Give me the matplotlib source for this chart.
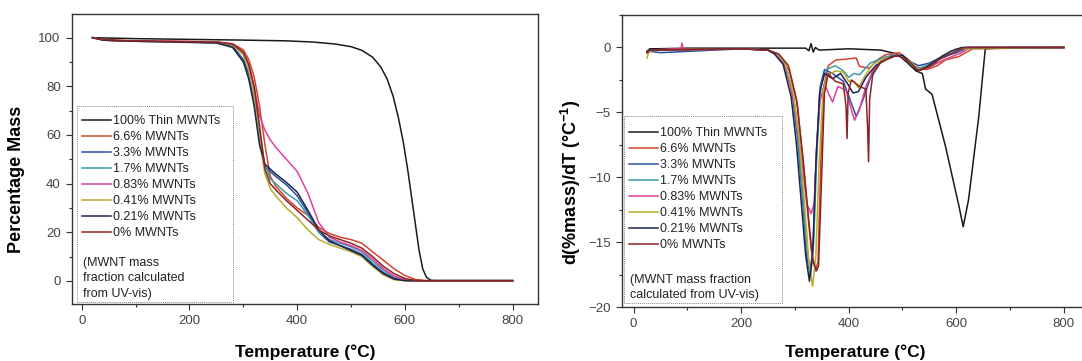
import matplotlib
matplotlib.use("Agg")
import matplotlib.pyplot as plt
from matplotlib.patches import Rectangle
from matplotlib.ticker import MultipleLocator

plt.rcParams['font.family'] = ['Liberation Sans', 'DejaVu Sans']
plt.rcParams['mathtext.fontset'] = 'custom'
plt.rcParams['mathtext.rm'] = 'Liberation Sans'
plt.rcParams['mathtext.bf'] = 'Liberation Sans:bold'

labels = ['100% Thin MWNTs', '6.6% MWNTs', '3.3% MWNTs', '1.7% MWNTs',
          '0.83% MWNTs', '0.41% MWNTs', '0.21% MWNTs', '0% MWNTs']
colors = ['#1a1a1a', '#d2452b', '#2a4ea0', '#3c9ab0',
          '#e0409a', '#b8ad2e', '#1c2450', '#8c2424']

# ---- TGA (percentage mass) ----
tga_thin_T = [20, 100, 200, 300, 380, 430, 470, 500, 520, 540, 555, 567, 578, 588, 597, 605,
              612, 619, 626, 633, 640, 648, 655, 800]
tga_thin = [100, 99.6, 99.3, 99.0, 98.7, 98.2, 97.4, 96.3, 94.8, 92, 88, 83, 76, 67, 57, 46,
            35, 24, 13, 5, 1.5, 0.3, 0.2, 0.2]

tga_T = [20, 40, 80, 150, 250, 280, 300, 310, 320, 330, 340, 350, 360, 380, 400, 420,
         440, 460, 480, 500, 520, 540, 560, 580, 600, 620, 640, 800]
tga_66 = [100, 99.2, 98.8, 98.6, 98.3, 97.5, 95, 91, 84, 72, 56, 43, 39, 34, 30, 27,
          22, 19.5, 18, 17, 15.5, 12, 8.5, 5, 2.2, 0.6, 0.1, 0.1]
tga_33 = [100, 99, 98.6, 98.4, 98.0, 96.5, 91, 85, 74, 58, 47, 45, 43, 39.5, 35, 28,
          20, 16, 14.5, 13, 11, 7, 3.5, 1.2, 0.3, 0.1, 0.1, 0.1]
tga_17 = [100, 99, 98.6, 98.4, 98, 97, 93, 87, 77, 62, 48, 42, 40, 36, 33, 27,
          20, 17, 15.5, 14, 12, 8, 4.5, 1.8, 0.4, 0.1, 0.1, 0.1]
tga_083 = [100, 99, 98.7, 98.5, 98.2, 97.3, 94, 89, 80, 68, 62, 58, 55, 50, 45, 36,
           24, 18, 16, 14.5, 12.5, 9, 5, 2, 0.5, 0.1, 0.1, 0.1]
tga_041 = [100, 99, 98.6, 98.4, 98, 97, 93, 87, 76, 58, 44, 38, 35, 30, 26, 21,
           17, 15, 13.5, 12, 10, 6, 2.5, 0.5, 0.1, 0.1, 0.1, 0.1]
tga_021 = [100, 99, 98.6, 98.3, 97.8, 96, 90, 83, 72, 56, 48, 46, 44, 40.5, 36.5, 29,
           21, 16.5, 14.5, 12.5, 10.5, 6.5, 3, 0.8, 0.1, 0.1, 0.1, 0.1]
tga_0 = [100, 99.2, 98.8, 98.5, 98.2, 97.3, 94, 89, 80, 64, 46, 40, 37.5, 33, 29, 25,
         21, 18.5, 17, 15.5, 13.5, 10, 6, 3, 1, 0.2, 0.1, 0.1]

# ---- DTG (derivative) ----
dtg_thin_T = [25, 30, 40, 100, 200, 300, 320, 326, 330, 334, 338, 345, 400, 460, 490, 510, 525,
              537, 543, 555, 580, 605, 613, 623, 642, 654, 700, 800]
dtg_thin = [-0.3, -0.1, -0.1, -0.05, -0.05, -0.05, -0.05, -0.25, 0.3, -0.35, 0.0, -0.2, -0.1,
            -0.2, -0.5, -1.2, -1.8, -2.0, -3.2, -3.6, -7.6, -12.2, -13.8, -11.7, -5.3, -0.1, 0, 0]

dtg_66_T = [25, 30, 90, 200, 250, 270, 290, 305, 318, 330, 338, 343, 348, 354, 362, 377, 395,
            414, 420, 438, 455, 469, 494, 510, 525, 545, 565, 580, 605, 630, 800]
dtg_66 = [-0.4, -0.2, -0.1, -0.1, -0.2, -0.6, -1.8, -4.5, -10, -15.5, -17.2, -16.5, -9, -3,
          -1.4, -0.95, -0.9, -0.8, -1.45, -1.6, -0.9, -0.55, -0.4, -0.9, -1.5, -1.7, -1.4,
          -0.95, -0.7, -0.1, 0.0]

dtg_33_T = [25, 30, 50, 200, 250, 265, 280, 295, 305, 315, 322, 328, 334, 340, 347, 355, 370,
            390, 405, 414, 425, 440, 460, 480, 500, 515, 530, 550, 570, 600, 625, 800]
dtg_33 = [-0.4, -0.3, -0.4, -0.1, -0.2, -0.5, -1.2, -3.5, -7, -12, -16, -17.5, -15, -8, -3,
          -1.7, -2.0, -2.6, -4.3, -5.3, -4.2, -2.4, -1.1, -0.6, -0.6, -1.1, -1.4, -1.2, -0.8,
          -0.4, 0.0, 0.0]

dtg_17_T = [25, 30, 200, 250, 265, 280, 295, 305, 315, 322, 329, 335, 341, 348, 358, 375, 390,
            400, 410, 420, 440, 470, 495, 515, 530, 550, 575, 600, 618, 800]
dtg_17 = [-0.3, -0.2, -0.1, -0.2, -0.45, -1.1, -3.2, -6.5, -11.5, -15.5, -17.6, -15, -8, -3,
          -1.7, -1.4, -1.8, -2.3, -2.0, -2.1, -1.2, -0.7, -0.6, -1.2, -1.6, -1.3, -0.7, -0.3,
          0.0, 0.0]

dtg_083_T = [25, 30, 88, 90, 92, 200, 250, 268, 285, 300, 312, 322, 330, 336, 340, 346, 355,
             362, 370, 380, 395, 405, 411, 420, 432, 445, 465, 490, 510, 530, 550, 580, 610,
             625, 800]
dtg_083 = [-0.4, -0.2, -0.1, 0.35, -0.2, -0.1, -0.2, -0.6, -1.7, -4.5, -8.5, -12, -12.8, -12,
           -8, -4.2, -2.8, -3.5, -4.2, -3.0, -3.3, -4.8, -5.6, -4.8, -3.0, -1.8, -0.9, -0.6,
           -1.0, -1.7, -1.5, -0.9, -0.4, 0.0, 0.0]

dtg_041_T = [25, 27, 30, 40, 200, 250, 267, 282, 297, 308, 318, 326, 333, 339, 345, 352, 360,
             375, 390, 400, 410, 418, 430, 445, 470, 495, 515, 530, 550, 575, 600, 800]
dtg_041 = [-0.8, -0.5, -0.3, -0.2, -0.1, -0.2, -0.5, -1.2, -3.5, -7, -12, -16.5, -18.4, -16,
           -9, -3.5, -2.2, -1.8, -1.9, -2.6, -2.6, -3.1, -2.2, -1.3, -0.8, -0.6, -1.1, -1.7,
           -1.4, -0.6, -0.1, 0.0]

dtg_021_T = [25, 30, 200, 250, 262, 278, 293, 303, 313, 320, 327, 333, 339, 346, 355, 370, 385,
             398, 408, 418, 432, 450, 480, 500, 515, 528, 545, 565, 590, 610, 800]
dtg_021 = [-0.3, -0.2, -0.1, -0.2, -0.5, -1.3, -3.8, -7.5, -12.5, -16, -18, -16, -9, -3.5,
           -2.0, -2.4, -2.0, -2.8, -3.5, -3.4, -2.3, -1.4, -0.7, -0.6, -1.2, -1.8, -1.5, -0.9,
           -0.3, 0.0, 0.0]

dtg_0_T = [25, 30, 200, 250, 270, 288, 303, 315, 325, 333, 340, 344, 348, 355, 362, 375, 390,
           395, 397, 399, 405, 420, 432, 435, 437, 439, 445, 460, 490, 510, 530, 550, 570, 595,
           615, 800]
dtg_0 = [-0.4, -0.2, -0.1, -0.2, -0.5, -1.4, -4, -8.5, -13, -16.3, -17.2, -16.8, -12, -3.5,
         -2.0, -2.6, -2.8, -4.5, -7.0, -3.5, -2.5, -3.0, -3.2, -6, -8.8, -4, -2.0, -1.1, -0.6,
         -1.0, -1.8, -1.5, -0.9, -0.4, 0.0, 0.0]

tga_series = [(tga_thin_T, tga_thin), (tga_T, tga_66), (tga_T, tga_33), (tga_T, tga_17),
              (tga_T, tga_083), (tga_T, tga_041), (tga_T, tga_021), (tga_T, tga_0)]
dtg_series = [(dtg_thin_T, dtg_thin), (dtg_66_T, dtg_66), (dtg_33_T, dtg_33), (dtg_17_T, dtg_17),
              (dtg_083_T, dtg_083), (dtg_041_T, dtg_041), (dtg_021_T, dtg_021), (dtg_0_T, dtg_0)]


def style_axes(ax):
    for s in ax.spines.values():
        s.set_color('#333333')
        s.set_linewidth(1.0)
    ax.tick_params(which='both', direction='out', color='#333333', width=0.8,
                   labelsize=9.5, labelcolor='#444444', top=False, right=False)
    ax.tick_params(which='major', length=4, pad=4)
    ax.tick_params(which='minor', length=2.5)
    ax.xaxis.set_major_locator(MultipleLocator(200))
    ax.xaxis.set_minor_locator(MultipleLocator(100))


def draw_legend(ax, box, anchor, note):
    handles = ax.get_lines()
    ax.legend(handles, labels, loc='upper left', bbox_to_anchor=anchor, frameon=False,
              fontsize=9, handlelength=2.3, handletextpad=0.15, labelspacing=0.32,
              borderpad=0, borderaxespad=0, labelcolor='#222222')
    x0, y0, x1, y1 = box
    ax.add_patch(Rectangle((x0, y0), x1 - x0, y1 - y0, transform=ax.transAxes, fill=False,
                           edgecolor='#888888', linewidth=0.7, linestyle=(0, (1, 1)), zorder=5))
    ax.text(anchor[0] + 0.002, y0 + 0.008, note, transform=ax.transAxes, fontsize=9,
            color='#222222', va='bottom', ha='left', linespacing=1.35)


fig = plt.figure(figsize=(10.82, 3.61), dpi=100)
ax1 = fig.add_axes([0.0663, 0.158, 0.4309, 0.803])
ax2 = fig.add_axes([0.5749, 0.1488, 0.4306, 0.8096])

for (t, v), c in zip(tga_series, colors):
    ax1.plot(t, v, color=c, lw=1.1)
ax1.set_xlim(-18.6, 847)
ax1.set_ylim(-9.45, 109.7)
style_axes(ax1)
ax1.yaxis.set_major_locator(MultipleLocator(20))
ax1.yaxis.set_minor_locator(MultipleLocator(10))
ax1.set_xlabel('Temperature (°C)', fontsize=12.5, fontweight='bold')
ax1.set_ylabel('Percentage Mass', fontsize=13, fontweight='bold')
ax1.xaxis.set_label_coords(0.5, -0.14)
ax1.yaxis.set_label_coords(-0.1, 0.43)
draw_legend(ax1, (0.0107, 0.007, 0.345, 0.683), (0.022, 0.652),
            '(MWNT mass\nfraction calculated\nfrom UV-vis)')

for (t, v), c in zip(dtg_series, colors):
    ax2.plot(t, v, color=c, lw=1.1)
ax2.set_xlim(-21.5, 845)
ax2.set_ylim(-20, 2.5)
style_axes(ax2)
ax2.yaxis.set_major_locator(MultipleLocator(5))
ax2.yaxis.set_minor_locator(MultipleLocator(2.5))
ax2.set_xlabel('Temperature (°C)', fontsize=12.5, fontweight='bold')
ax2.set_ylabel(r'd(%mass)/dT (°C$^{\mathbf{-1}}$)', fontsize=13, fontweight='bold')
ax2.xaxis.set_label_coords(0.5, -0.128)
ax2.yaxis.set_label_coords(-0.084, 0.429)
draw_legend(ax2, (0.005, 0.013, 0.343, 0.654), (0.016, 0.617),
            '(MWNT mass fraction\ncalculated from UV-vis)')

fig.savefig('out.png', dpi=100)
